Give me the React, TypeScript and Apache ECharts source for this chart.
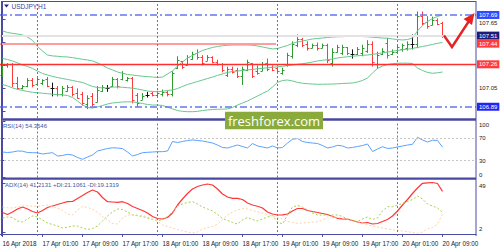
import React, { useEffect, useRef } from 'react';
import * as echarts from 'echarts';

// ---- time axis ----
const tickBars = [0, 8, 16, 24, 32, 40, 48, 56, 64, 72, 80, 88];
const tickLabels = ['16 Apr 2018', '17 Apr 01:00', '17 Apr 09:00', '17 Apr 17:00', '18 Apr 01:00', '18 Apr 09:00', '18 Apr 17:00', '19 Apr 01:00', '19 Apr 09:00', '19 Apr 17:00', '20 Apr 01:00', '20 Apr 09:00'];
const daySeparatorBars = [7, 31, 55, 79];

// ---- USDJPY H1 bars ----
const open = [107.17,107.25,107.26,107.10,107.05,107.07,107.12,107.09,107.10,107.13,107.05,107.05,107.00,107.03,107.06,107.01,107.00,106.91,106.98,106.93,107.03,107.05,107.07,107.13,107.13,107.12,107.14,106.99,106.95,106.99,107.01,106.99,107.00,107.02,107.00,107.23,107.29,107.25,107.31,107.36,107.32,107.29,107.32,107.28,107.26,107.17,107.22,107.21,107.16,107.21,107.27,107.20,107.20,107.27,107.24,107.23,107.18,107.25,107.33,107.43,107.48,107.44,107.40,107.43,107.40,107.43,107.27,107.37,107.36,107.41,107.35,107.35,107.36,107.38,107.44,107.26,107.35,107.45,107.35,107.37,107.39,107.40,107.44,107.44,107.68,107.63,107.60,107.65,107.62];
const high = [107.28,107.27,107.27,107.15,107.08,107.14,107.14,107.15,107.13,107.15,107.10,107.07,107.07,107.08,107.07,107.05,107.02,106.99,107.01,107.07,107.08,107.08,107.15,107.14,107.20,107.15,107.15,107.01,107.01,107.02,107.02,107.03,107.04,107.03,107.20,107.33,107.29,107.34,107.37,107.39,107.34,107.34,107.33,107.30,107.27,107.24,107.24,107.23,107.24,107.30,107.27,107.25,107.28,107.31,107.25,107.24,107.23,107.36,107.46,107.52,107.49,107.46,107.44,107.45,107.44,107.44,107.40,107.43,107.43,107.41,107.39,107.41,107.43,107.47,107.46,107.37,107.40,107.49,107.39,107.43,107.44,107.46,107.52,107.72,107.72,107.68,107.675,107.66,107.63];
const low = [107.15,107.23,107.06,107.04,107.04,107.06,107.06,107.08,107.08,107.06,106.98,106.98,106.98,107.02,106.98,106.96,106.90,106.87,106.89,106.93,107.02,107.02,107.06,107.05,107.12,107.11,106.92,106.89,106.95,106.97,106.98,106.98,106.98,106.98,106.98,107.22,107.22,107.25,107.30,107.30,107.25,107.29,107.27,107.25,107.19,107.15,107.18,107.14,107.08,107.20,107.14,107.17,107.20,107.20,107.20,107.18,107.17,107.24,107.31,107.41,107.41,107.38,107.40,107.38,107.40,107.27,107.24,107.36,107.34,107.34,107.31,107.34,107.33,107.36,107.24,107.22,107.34,107.31,107.34,107.36,107.37,107.38,107.39,107.40,107.60,107.57,107.60,107.60,107.49];
const close = [107.26,107.26,107.10,107.05,107.07,107.12,107.08,107.13,107.12,107.07,107.05,107.00,107.05,107.06,107.00,106.97,106.92,106.97,106.91,107.04,107.06,107.05,107.13,107.07,107.18,107.14,106.95,106.92,106.98,106.99,106.99,107.01,107.02,107.00,107.18,107.30,107.24,107.32,107.35,107.32,107.27,107.32,107.28,107.26,107.21,107.22,107.19,107.16,107.22,107.28,107.16,107.18,107.26,107.22,107.21,107.20,107.21,107.34,107.44,107.48,107.43,107.40,107.43,107.40,107.43,107.30,107.37,107.41,107.41,107.36,107.35,107.39,107.40,107.44,107.28,107.34,107.38,107.34,107.37,107.41,107.43,107.44,107.44,107.68,107.62,107.59,107.65,107.61,107.51];

// ---- Bollinger bands ----
const bbUpper = [107.551,107.537,107.530,107.524,107.516,107.498,107.468,107.415,107.376,107.341,107.333,107.330,107.326,107.324,107.318,107.311,107.304,107.298,107.289,107.272,107.250,107.228,107.211,107.193,107.182,107.171,107.167,107.161,107.156,107.153,107.149,107.145,107.149,107.176,107.202,107.245,107.280,107.315,107.337,107.359,107.381,107.394,107.407,107.415,107.422,107.426,107.428,107.428,107.428,107.428,107.426,107.420,107.411,107.402,107.394,107.398,107.411,107.424,107.442,107.455,107.463,107.472,107.481,107.485,107.489,107.494,107.498,107.500,107.501,107.503,107.503,107.503,107.502,107.500,107.496,107.493,107.489,107.487,107.481,107.476,107.472,107.476,107.489,107.551,107.598,107.633,107.659,107.677,107.690];
const bbMiddle = [107.311,107.302,107.289,107.272,107.254,107.241,107.224,107.202,107.180,107.167,107.154,107.145,107.136,107.128,107.119,107.110,107.102,107.084,107.067,107.058,107.054,107.054,107.062,107.062,107.060,107.056,107.052,107.045,107.036,107.027,107.023,107.021,107.025,107.032,107.036,107.049,107.067,107.084,107.097,107.110,107.123,107.136,107.149,107.163,107.176,107.189,107.197,107.202,107.206,107.211,107.215,107.221,107.225,107.230,107.234,107.238,107.243,107.248,107.254,107.260,107.265,107.272,107.280,107.289,107.295,107.300,107.306,107.315,107.321,107.326,107.331,107.334,107.338,107.341,107.347,107.353,107.360,107.367,107.374,107.381,107.387,107.392,107.398,107.407,107.415,107.424,107.433,107.443,107.450];
const bbLower = [107.084,107.071,107.054,107.041,107.032,107.023,107.016,107.012,107.008,107.004,106.999,106.996,106.993,106.988,106.971,106.940,106.905,106.884,106.879,106.888,106.901,106.914,106.923,106.927,106.932,106.933,106.932,106.927,106.918,106.910,106.905,106.905,106.901,106.888,106.871,106.857,106.850,106.847,106.847,106.850,106.857,106.862,106.866,106.868,106.869,106.871,106.884,106.905,106.923,106.940,106.962,106.984,107.006,107.027,107.062,107.102,107.119,107.123,107.115,107.102,107.095,107.091,107.088,107.086,107.086,107.087,107.088,107.090,107.093,107.095,107.097,107.106,107.119,107.141,107.184,107.224,107.245,107.258,107.265,107.269,107.270,107.270,107.267,107.228,107.206,107.189,107.182,107.186,107.193];

// ---- RSI(14) ----
const rsi = [45.5,44.6,45.5,47.3,47,44.6,44.3,44.1,42,43.2,44.3,38.4,39.3,41.4,40.2,35.7,32.5,36.6,40.2,47.3,49.6,51.8,53,52.7,51.6,45.5,38.4,41.1,44.3,45,45.5,46.1,46.1,47.3,64.3,62.5,64.3,66.1,67,66.1,65.2,63.4,61.6,58,53.6,52.7,55.4,58,55.4,52.7,60.7,56.3,54.5,52.7,56.3,52.7,53.6,61.6,68.2,69.6,64.3,62.5,61.6,60.7,57.1,52.7,54.5,57.5,56.3,52.7,53.6,55.4,57.1,59.8,46.4,50.9,55,51.8,52.7,54.5,56.3,58,59.3,71.8,67,63.4,66.6,66.1,54.36];
const rsiLevels = [70, 30];
const rsiTicks = [0, 30, 70, 100];

// ---- ADX(14) ----
const adx = [20.76,18.82,21.24,24.14,26.08,24.14,21.72,20.27,22.69,25.59,27.05,28.5,29.95,31.21,31.4,34.31,37.21,40.12,42.54,40.6,35.28,31.21,30.92,30.63,31.21,29.47,26.56,24.63,22.69,20.27,16.88,14.95,14.46,15.92,20.27,28.02,33.82,39.15,43.5,45.92,47.38,48.34,47.38,43.5,38.66,35.76,34.5,34.5,33.34,29.95,28.02,26.76,25.11,21.24,19.3,18.34,18.53,19.3,22.21,24.63,24.63,22.69,21.72,20.76,19.79,18.82,16.88,15.14,14.66,14.27,13.01,11.56,10.59,11.08,9.62,10.11,12.04,13.98,17.37,22.21,28.02,33.34,39.15,44.47,49.02,49.51,49.8,48.83,41.21];
const plusDi = [15.43,16.4,15.92,12.53,11.56,14.46,17.37,16.4,13.5,10.59,9.14,7.69,5.75,6.43,7.69,7.69,5.75,4.3,5.27,7.69,12.53,17.37,21.24,24.14,23.66,21.24,18.34,17.66,16.88,15.43,13.98,13.01,13.5,16.88,21.24,27.05,28.98,30.44,31.21,28.98,26.08,24.14,22.21,18.82,14.95,13.01,11.08,9.62,13.5,15.92,13.98,12.53,14.46,16.4,17.85,11.56,9.62,18.34,26.08,27.53,26.08,23.18,20.27,18.34,18.34,18.34,18.34,18.34,16.88,14.46,13.01,12.04,14.46,16.4,13.98,15.43,22.21,26.37,26.37,28.02,29.47,31.4,33.34,36.73,33.82,28.98,27.05,25.11,21.11];
const minusDi = [26.08,25.31,25.11,26.08,27.05,27.34,26.76,26.76,27.53,27.73,26.56,25.11,22.69,19.3,18.34,23.18,26.56,25.6,24.14,20.76,16.88,13.5,10.11,9.62,15.43,18.34,18.34,18.34,18.05,16.4,14.46,12.04,8.66,7.2,5.75,4.3,2.85,1.88,0.91,1.88,4.78,6.24,7.2,9.62,13.98,18.34,21.24,23.18,24.63,24.14,22.69,21.43,20.27,18.82,17.37,15.92,14.46,12.04,11.08,10.3,10.59,11.08,11.56,11.75,13.5,16.4,16.69,15.92,15.14,14.46,13.79,12.04,10.59,8.66,7.69,6.72,5.75,4.78,4.11,3.62,2.85,2.17,1.4,0.62,1.88,4.78,6.24,9.62,19.13];
const adxTicks = [2, 49];

// ---- price scale & drawn levels ----
const priceTicks = [106.85, 107.05, 107.25, 107.45, 107.65];
const levelTop = 107.69;
const levelBid = 107.51;
const levelTrend = 107.44;
const levelSupport = 107.26;
const levelBottom = 106.89;
const trendStartBar = 54.7;

const FONT = 'Liberation Sans';
const AXIS = '#4b4ba6';
const X_MIN = -0.5;
const X_MAX = 94.7;

const pairs = (arr: number[]) => arr.map((v, i) => [i, v]);

const box = (text: string, bg: string) => ({
  show: true,
  position: 'end',
  distance: 1,
  formatter: text,
  backgroundColor: bg,
  color: '#ffffff',
  fontSize: 6,
  fontFamily: FONT,
  padding: [1, 2, 1, 2],
});

const daySepLines = daySeparatorBars.map((b) => ({
  xAxis: b,
  lineStyle: { color: '#6b6bd2', type: [2, 2], width: 1 },
  label: { show: false },
}));

const dashDot = { color: '#6676ee', width: 1.5, type: [7, 3, 2, 3] };

function xAxisFor(gridIndex: number, showLabels: boolean) {
  return {
    type: 'value',
    gridIndex,
    min: X_MIN,
    max: X_MAX,
    splitLine: { show: false },
    axisLine: { show: showLabels, lineStyle: { color: AXIS, width: 1 } },
    axisTick: { show: showLabels, customValues: tickBars, length: 3, lineStyle: { color: AXIS } },
    axisLabel: {
      show: showLabels,
      customValues: tickBars,
      formatter: (v: number) => tickLabels[Math.round(v / 8)] ?? '',
      align: 'left',
      fontSize: 6.3,
      color: '#222',
      margin: 4,
      fontFamily: FONT,
    },
  };
}

function yAxisBase(gridIndex: number, min: number, max: number, ticks: number[], fmt: (v: number) => string) {
  return {
    type: 'value',
    gridIndex,
    position: 'right',
    min,
    max,
    splitLine: { show: false },
    axisLine: { show: true, lineStyle: { color: AXIS, width: 1 } },
    axisTick: { show: true, customValues: ticks, length: 3, lineStyle: { color: AXIS } },
    axisLabel: {
      customValues: ticks,
      formatter: fmt,
      fontSize: 6,
      color: '#222',
      margin: 3,
      fontFamily: FONT,
      verticalAlignMaxLabel: 'top',
      verticalAlignMinLabel: 'bottom',
    },
  };
}

const lineSeries = (data: number[], idx: number, color: string, type: any = 'solid', width = 1, markLine?: any) => ({
  type: 'line',
  xAxisIndex: idx,
  yAxisIndex: idx,
  data: pairs(data),
  showSymbol: false,
  symbol: 'none',
  silent: true,
  lineStyle: { color, width, type },
  ...(markLine ? { markLine } : {}),
});

const mlBase = { symbol: ['none', 'none'], silent: true, animation: false, label: { show: false } };

function buildOption() {
  const ohlc = open.map((o, i) => [i, o, high[i], low[i], close[i]]);
  return {
    animation: false,
    backgroundColor: '#ffffff',
    textStyle: { fontFamily: FONT },
    grid: [
      { left: 0, top: 2, width: 476, height: 116, outerBoundsMode: 'none', containLabel: false },
      { left: 0, top: 121.5, width: 476, height: 56, outerBoundsMode: 'none', containLabel: false },
      { left: 0, top: 179.5, width: 476, height: 56.5, outerBoundsMode: 'none', containLabel: false },
    ],
    xAxis: [xAxisFor(0, false), xAxisFor(1, false), xAxisFor(2, true)],
    yAxis: [
      yAxisBase(0, 106.792, 107.803, priceTicks, (v) => v.toFixed(2)),
      yAxisBase(1, 0, 100, rsiTicks, (v) => String(v)),
      yAxisBase(2, -2, 52.7, adxTicks, (v) => String(v)),
    ],
    series: [
      {
        type: 'custom',
        xAxisIndex: 0,
        yAxisIndex: 0,
        data: ohlc,
        silent: true,
        encode: { x: 0, y: [1, 2, 3, 4] },
        renderItem: (params: any, api: any) => {
          const i = api.value(0);
          const o = api.value(1);
          const h = api.value(2);
          const l = api.value(3);
          const c = api.value(4);
          const pH = api.coord([i, h]);
          const pL = api.coord([i, l]);
          const pO = api.coord([i, o]);
          const pC = api.coord([i, c]);
          const color = c > o ? '#2e9b2e' : c < o ? '#ff3a3a' : '#111111';
          const x = pH[0];
          const yO = Math.round(pO[1]) + 0.5;
          const yC = Math.round(pC[1]) + 0.5;
          const st = { stroke: color, lineWidth: 1 };
          return {
            type: 'group',
            children: [
              { type: 'line', shape: { x1: x, y1: pH[1], x2: x, y2: pL[1] }, style: st },
              { type: 'line', shape: { x1: x - 2, y1: yO, x2: x, y2: yO }, style: st },
              { type: 'line', shape: { x1: x, y1: yC, x2: x + 2, y2: yC }, style: st },
            ],
          };
        },
      },
      lineSeries(bbUpper, 0, '#68c88c'),
      lineSeries(bbMiddle, 0, '#68c88c'),
      lineSeries(bbLower, 0, '#68c88c', 'solid', 1, {
        ...mlBase,
        data: [
          { yAxis: levelBid, lineStyle: { color: '#e4e4e4', width: 2, type: 'solid' }, label: box(levelBid.toFixed(2), '#1c1c7c') },
          { yAxis: levelTop, lineStyle: dashDot, label: box(levelTop.toFixed(2), '#2f4bff') },
          { yAxis: levelBottom, lineStyle: dashDot, label: box(levelBottom.toFixed(2), '#2424f2') },
          { yAxis: levelSupport, lineStyle: { color: '#ff2f2f', width: 1.3, type: 'solid' }, label: box(levelSupport.toFixed(2), '#ff3b3b') },
          [
            { coord: [X_MIN, levelTrend], lineStyle: { color: '#ff9c9c', width: 2, type: 'solid' } },
            { coord: [trendStartBar, levelTrend] },
          ],
          [
            {
              coord: [trendStartBar, levelTrend],
              lineStyle: { color: '#2b1d8f', width: 3, type: 'solid', shadowColor: 'rgba(0,0,0,0.35)', shadowBlur: 2, shadowOffsetY: 2 },
              label: box(levelTrend.toFixed(2), '#ff3b3b'),
            },
            { coord: [X_MAX, levelTrend] },
          ],
          ...daySepLines,
        ],
      }),
      lineSeries(rsi, 1, '#5aa2ff', 'solid', 1, {
        ...mlBase,
        data: [
          ...rsiLevels.map((v) => ({ yAxis: v, lineStyle: { color: '#c6c6c6', type: [2, 2], width: 1 } })),
          ...daySepLines,
        ],
      }),
      lineSeries(adx, 2, '#ff3636', 'solid', 1.2, { ...mlBase, data: [...daySepLines] }),
      lineSeries(plusDi, 2, '#a8d04a', [2, 2], 1),
      lineSeries(minusDi, 2, '#ffd2a6', [2, 2], 1),
    ],
    graphic: [
      // frame
      { type: 'line', shape: { x1: 1, y1: 1.5, x2: 476, y2: 1.5 }, style: { stroke: AXIS, lineWidth: 1 }, z: 50 },
      { type: 'line', shape: { x1: 1.5, y1: 1, x2: 1.5, y2: 236 }, style: { stroke: AXIS, lineWidth: 1 }, z: 50 },
      { type: 'line', shape: { x1: 476, y1: 1, x2: 476, y2: 236 }, style: { stroke: AXIS, lineWidth: 1 }, z: 50 },
      // panel separators
      { type: 'rect', shape: { x: 1, y: 118.3, width: 475, height: 2.4 }, style: { fill: '#4848a0' }, z: 50 },
      { type: 'rect', shape: { x: 1, y: 177.6, width: 475, height: 2.2 }, style: { fill: '#4848a0' }, z: 50 },
      // titles
      { type: 'polygon', shape: { points: [[4, 4.5], [9, 4.5], [6.5, 7.5]] }, style: { fill: '#22227a' }, z: 60 },
      { type: 'text', x: 11.5, y: 3, style: { text: 'USDJPY,H1', fontSize: 6.5, fill: '#3c46a0', fontFamily: FONT }, z: 60 },
      { type: 'text', x: 3, y: 122.5, style: { text: 'RSI(14) 54.3646', fontSize: 6, fill: '#44549e', fontFamily: FONT }, z: 60 },
      { type: 'text', x: 5, y: 182, style: { text: 'ADX(14) 41.2131 +DI:21.1061 -DI:19.1319', fontSize: 6, fill: '#44549e', fontFamily: FONT }, z: 60 },
      // watermark
      { type: 'rect', shape: { x: 225, y: 111.7, width: 98, height: 17.6 }, style: { fill: '#8aab3c' }, z: 70 },
      {
        type: 'text',
        x: 274,
        y: 120.5,
        style: { text: 'freshforex.com', fontSize: 13, fill: '#ffffff', fontFamily: 'Open Sans', align: 'center', verticalAlign: 'middle' },
        z: 71,
      },
      // forecast arrow
      {
        type: 'polyline',
        shape: { points: [[444, 35.5], [452, 47], [469, 21]] },
        style: { stroke: '#e52222', lineWidth: 2.4, fill: 'none', lineJoin: 'miter' },
        z: 80,
      },
      { type: 'polygon', shape: { points: [[474.5, 13], [463.5, 19], [472, 25]] }, style: { fill: '#e52222' }, z: 80 },
    ],
  };
}

export default function App() {
  const ref = useRef<HTMLDivElement>(null);
  useEffect(() => {
    const chart = echarts.init(ref.current as HTMLDivElement, null, { renderer: 'svg' });
    chart.setOption(buildOption() as any);
    return () => chart.dispose();
  }, []);
  return (
    <div
      ref={ref}
      style={{ position: 'fixed', left: 0, top: 0, width: 500, height: 250, background: '#ffffff' }}
    />
  );
}
